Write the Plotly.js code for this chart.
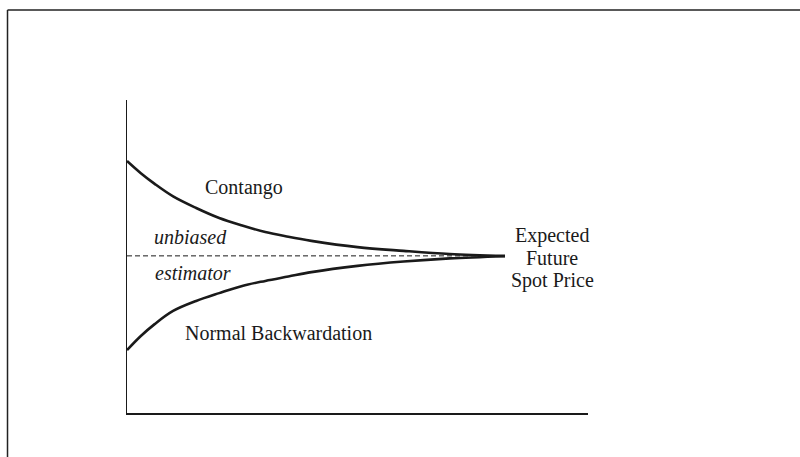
<!DOCTYPE html>
<html>
<head>
<meta charset="utf-8">
<script src="https://cdn.plot.ly/plotly-3.0.1.min.js"></script>
<style>
html,body{margin:0;padding:0;background:#fff;}
#chart{width:800px;height:457px;}
</style>
</head>
<body>
<div id="chart"></div>
<script>
// Time to maturity (arbitrary units) and futures price levels (arbitrary units)
var maturity = [0, 3, 6, 10, 15, 20, 25, 30, 35, 40, 50, 60, 70, 82];
var contango = [80.5, 76.6, 73.2, 69.2, 65.5, 62.3, 59.9, 57.8, 56.3, 55.0, 53.0, 51.8, 50.8, 50.2];
var backwardation = [20.1, 24.6, 28.4, 32.6, 35.8, 38.3, 40.6, 42.2, 43.6, 45.0, 47.0, 48.4, 49.4, 50.1];
var spotX = [0, 82];
var spotY = [50.2, 50.2];

var labels = [
  {text: 'Contango', x: 16.5, y: 72.0, italic: false, anchor: 'left'},
  {text: 'unbiased', x: 5.4, y: 56.2, italic: true, anchor: 'left'},
  {text: 'estimator', x: 5.7, y: 44.7, italic: true, anchor: 'left'},
  {text: 'Normal Backwardation', x: 12.1, y: 25.6, italic: false, anchor: 'left'},
  {text: 'Expected', x: 92.2, y: 56.6, italic: false, anchor: 'center'},
  {text: 'Future', x: 92.2, y: 49.5, italic: false, anchor: 'center'},
  {text: 'Spot Price', x: 92.2, y: 42.3, italic: false, anchor: 'center'}
];

var serif = 'Liberation Serif, Tinos, Times New Roman, serif';
var ink = '#1a1a1a';

var traces = [
  {x: spotX, y: spotY, mode: 'lines', line: {color: ink, width: 1, dash: '5px,3px'}, hoverinfo: 'skip'},
  {x: maturity, y: contango, mode: 'lines', line: {color: ink, width: 2.6, shape: 'spline'}, hoverinfo: 'skip'},
  {x: maturity, y: backwardation, mode: 'lines', line: {color: ink, width: 2.6, shape: 'spline'}, hoverinfo: 'skip'}
];

var annotations = labels.map(function (l) {
  return {
    text: l.text,
    x: l.x, y: l.y, xref: 'x', yref: 'y',
    xanchor: l.anchor, yanchor: 'middle',
    showarrow: false,
    font: {family: serif, size: 20, color: ink, style: l.italic ? 'italic' : 'normal'}
  };
});

var layout = {
  width: 800, height: 457, autosize: false,
  margin: {l: 127, r: 212, t: 100, b: 44, pad: 0},
  paper_bgcolor: '#ffffff', plot_bgcolor: '#ffffff',
  showlegend: false, hovermode: false,
  xaxis: {range: [0, 100], showline: true, linecolor: ink, linewidth: 1.5, showgrid: false, zeroline: false, showticklabels: false, ticks: '', fixedrange: true},
  yaxis: {range: [0, 100], showline: true, linecolor: ink, linewidth: 1.5, showgrid: false, zeroline: false, showticklabels: false, ticks: '', fixedrange: true},
  annotations: annotations,
  shapes: [
    {type: 'line', xref: 'paper', yref: 'paper', x0: -0.2592, x1: 1.47, y0: 1.2875, y1: 1.2875, line: {color: '#222', width: 1.5}},
    {type: 'line', xref: 'paper', yref: 'paper', x0: -0.2592, x1: -0.2592, y0: -0.15, y1: 1.2875, line: {color: '#222', width: 1.5}}
  ]
};

Plotly.newPlot('chart', traces, layout, {displayModeBar: false, staticPlot: true});
</script>
</body>
</html>
